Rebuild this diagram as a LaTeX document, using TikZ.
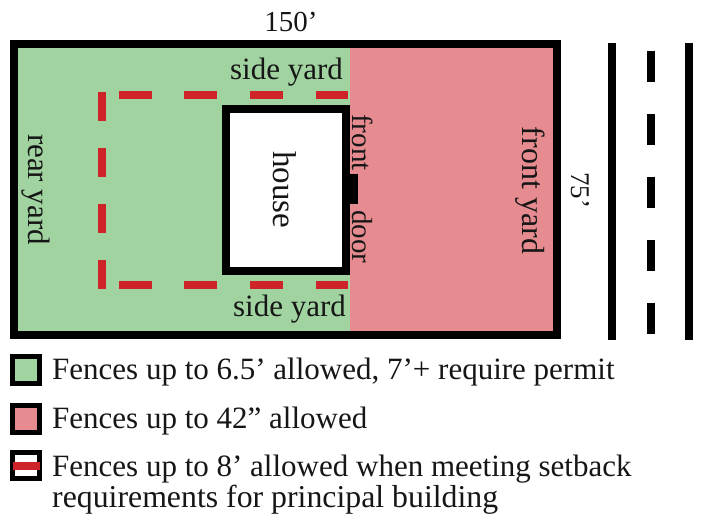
\documentclass[tikz,border=0pt]{standalone}
\usepackage{fontspec}
\setmainfont{Liberation Serif}
\definecolor{yardgreen}{HTML}{A0D3A0}
\definecolor{yardpink}{HTML}{E68C90}
\definecolor{fencered}{HTML}{CE2329}
\definecolor{inktext}{HTML}{161616}
\tikzset{
  wall/.style={draw=black,line width=8pt},
  fence/.style={draw=fencered,line width=8pt},
  lane/.style={draw=black,line width=8pt},
  swatch/.style={draw=black,line width=5pt},
  lbl/.style={font=\fontsize{31}{31}\selectfont,text=inktext,inner sep=0pt,anchor=base},
  small/.style={font=\fontsize{29}{29}\selectfont,text=inktext,inner sep=0pt,anchor=base},
  legend/.style={lbl,anchor=base west},
}
\begin{document}
\begin{tikzpicture}[x=1pt,y=-1pt]
\useasboundingbox (0,0) rectangle (704,519);
\fill[white] (0,0) rectangle (704,519);
% yards
\fill[yardgreen] (14,44) rectangle (350,335);
\fill[yardpink] (350,44) rectangle (557,335);
% fence
\foreach \a/\b in {119/152,184/217,250/283,316/348}{
  \draw[fence] (\a,94.7) -- (\b,94.7);
  \draw[fence] (\a,284.7) -- (\b,284.7);
}
\foreach \a/\b in {92/120.5,148/176.5,204/232.5,260/288.5}{
  \draw[fence] (102,\a) -- (102,\b);
}
% lot and house
\draw[wall] (14,44) rectangle (557,335);
\draw[wall,fill=white] (226,109) rectangle (346,270.5);
\fill[black] (350,174) rectangle (358,204);
% road
\draw[lane] (612,43) -- (612,340);
\draw[lane] (689,43) -- (689,340);
\foreach \a/\b in {50.7/82,113.7/145,176.7/208,239.7/271,302.7/334}{
  \draw[lane] (651,\a) -- (651,\b);
}
% labels
\node[small] (w) at (291,31.5) {150’};
\node[small,rotate=-90,font=\fontsize{27}{27}\selectfont] (h) at (571,190) {75’};
\node[lbl] (st) at (286.5,79.3) {side yard};
\node[lbl] (sb) at (289.5,316.7) {side yard};
\node[lbl,rotate=-90] (ry) at (28,189.5) {rear yard};
\node[lbl,rotate=-90,font=\fontsize{32}{32}\selectfont] (fy) at (522,190.5) {front yard};
\node[lbl,rotate=-90,font=\fontsize{33}{33}\selectfont] (ho) at (273,189.5) {house};
\node[small,rotate=-90] (fr) at (352.5,142.5) {front};
\node[small,rotate=-90] (dr) at (352.5,237) {door};
% legend
\draw[swatch,fill=yardgreen] (12.5,356.5) rectangle (39.5,383.5);
\draw[swatch,fill=yardpink] (12.5,405.5) rectangle (39.5,432.5);
\draw[swatch] (12.5,452.5) rectangle (39.5,478.5);
\draw[fence] (12.5,465.7) -- (39.5,465.7);
\node[legend] (l1) at (52,379) {Fences up to 6.5’ allowed, 7’+ require permit};
\node[legend] (l2) at (52,428) {Fences up to 42” allowed};
\node[legend] (l3) at (52,476) {Fences up to 8’ allowed when meeting setback};
\node[legend,font=\fontsize{31.8}{31.8}\selectfont] (l4) at (52,507) {requirements for principal building};
\end{tikzpicture}
\end{document}
